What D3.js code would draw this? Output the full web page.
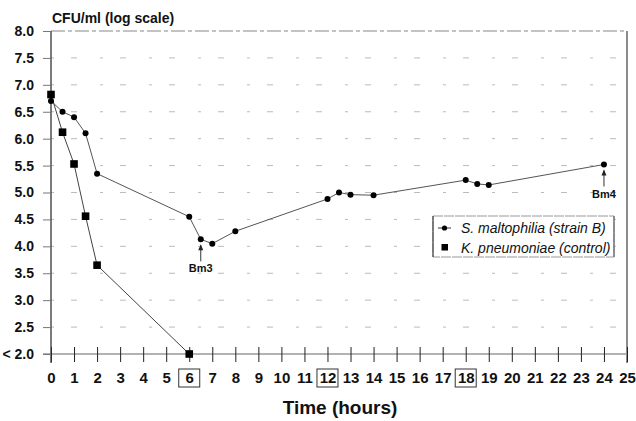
<!DOCTYPE html>
<html>
<head>
<meta charset="utf-8">
<script src="https://cdn.jsdelivr.net/npm/d3@7"></script>
<style>
  body { margin: 0; background: #fff; }
  text { font-family: Arial, "Liberation Sans", sans-serif; fill: #111; }
</style>
</head>
<body>
<div id="chart"></div>
<script>
// S. maltophilia (strain B)
const smHours = [0, 0.5, 1, 1.5, 2, 6, 6.5, 7, 8, 12, 12.5, 13, 14, 18, 18.5, 19, 24];
const smLog = [6.70, 6.50, 6.40, 6.10, 5.35, 4.55, 4.13, 4.05, 4.28, 4.88, 5.00, 4.96, 4.95, 5.23, 5.16, 5.14, 5.52];
// K. pneumoniae (control)
const kpHours = [0, 0.5, 1, 1.5, 2, 6];
const kpLog = [6.82, 6.12, 5.53, 4.56, 3.65, 2.0];

const xTicks = d3.range(0, 26);
const boxedHours = [6, 12, 18];
const yTicks = [2.0, 2.5, 3.0, 3.5, 4.0, 4.5, 5.0, 5.5, 6.0, 6.5, 7.0, 7.5, 8.0];
const yLabels = ["< 2.0", "2.5", "3.0", "3.5", "4.0", "4.5", "5.0", "5.5", "6.0", "6.5", "7.0", "7.5", "8.0"];
const marks = [{ label: "Bm3", t: 6.5, v: 4.13 }, { label: "Bm4", t: 24, v: 5.52 }];
const seriesNames = ["S. maltophilia (strain B)", "K. pneumoniae (control)"];

const width = 636, height = 421;
const svg = d3.select("#chart").append("svg")
    .attr("width", width)
    .attr("height", height);

const x = d3.scaleLinear().domain([0, 25]).range([51, 627]);
const y = d3.scaleLinear().domain([2, 8]).range([354, 31]);

// faint gridlines
svg.append("g").selectAll("line")
    .data(yTicks.filter(d => d > 2 && d < 8))
    .enter().append("line")
    .attr("x1", x(0)).attr("x2", x(25))
    .attr("y1", d => y(d)).attr("y2", d => y(d))
    .attr("stroke", "#bbb")
    .attr("stroke-width", 1)
    .attr("stroke-dasharray", "3,17,6,23");

// top border
svg.append("line")
    .attr("x1", x(0)).attr("x2", x(25))
    .attr("y1", y(8)).attr("y2", y(8))
    .attr("stroke", "#888").attr("stroke-width", 1.2)
    .attr("stroke-dasharray", "14,3,4,3");

// right border
svg.append("line")
    .attr("x1", x(25)).attr("x2", x(25))
    .attr("y1", y(8)).attr("y2", y(2) + 9)
    .attr("stroke", "#666").attr("stroke-width", 1.5);

// x axis
svg.append("line")
    .attr("x1", x(0) - 8).attr("x2", x(25))
    .attr("y1", y(2)).attr("y2", y(2))
    .attr("stroke", "#999").attr("stroke-width", 1.5);

const xAxis = d3.axisBottom(x)
    .tickValues(xTicks)
    .tickSize(7)
    .tickFormat(d3.format("d"));

const gx = svg.append("g")
    .attr("transform", "translate(0," + y(2) + ")")
    .call(xAxis);
gx.select(".domain").remove();
gx.selectAll(".tick line")
    .attr("y1", -7)
    .attr("y2", 8)
    .attr("stroke", "#222");
gx.selectAll(".tick text")
    .attr("y", 0)
    .attr("dy", null)
    .attr("transform", "translate(0,29)")
    .style("font-size", "15px")
    .style("font-weight", "bold")
    .style("font-family", "Arial, 'Liberation Sans', sans-serif")
    .attr("fill", "#111");

// boxes round 6, 12, 18
svg.append("g").selectAll("rect")
    .data(boxedHours)
    .enter().append("rect")
    .attr("x", d => x(d) - 10.5)
    .attr("y", 369)
    .attr("width", 21)
    .attr("height", 18)
    .attr("fill", "none")
    .attr("stroke", "#333")
    .attr("stroke-width", 1);

// y axis
svg.append("line")
    .attr("x1", x(0)).attr("x2", x(0))
    .attr("y1", y(8)).attr("y2", y(2) + 9)
    .attr("stroke", "#333").attr("stroke-width", 1.3);

const yAxis = d3.axisLeft(y)
    .tickValues(yTicks)
    .tickSize(8)
    .tickFormat((d, i) => yLabels[i]);

const gy = svg.append("g")
    .attr("transform", "translate(" + x(0) + ",0)")
    .call(yAxis);
gy.select(".domain").remove();
gy.selectAll(".tick line").attr("stroke", "#777");
gy.selectAll(".tick text")
    .attr("x", -17)
    .style("font-size", "14px")
    .style("font-weight", "bold")
    .style("font-family", "Arial, 'Liberation Sans', sans-serif")
    .attr("fill", "#111");

// titles
svg.append("text")
    .attr("x", 52).attr("y", 23)
    .style("font-size", "14px")
    .style("font-weight", "bold")
    .text("CFU/ml (log scale)");

svg.append("text")
    .attr("x", 340).attr("y", 414)
    .attr("text-anchor", "middle")
    .style("font-size", "19px")
    .style("font-weight", "bold")
    .text("Time (hours)");

// series
const line = d3.line()
    .x(d => x(d[0]))
    .y(d => y(d[1]));

const smData = smHours.map((t, i) => [t, smLog[i]]);
const kpData = kpHours.map((t, i) => [t, kpLog[i]]);

svg.append("path")
    .attr("d", line(smData))
    .attr("fill", "none")
    .attr("stroke", "#555")
    .attr("stroke-width", 1);

svg.append("path")
    .attr("d", line(kpData))
    .attr("fill", "none")
    .attr("stroke", "#444")
    .attr("stroke-width", 1);

svg.append("g").selectAll("circle")
    .data(smData)
    .enter().append("circle")
    .attr("cx", d => x(d[0]))
    .attr("cy", d => y(d[1]))
    .attr("r", 3)
    .attr("fill", "#000");

svg.append("g").selectAll("rect")
    .data(kpData)
    .enter().append("rect")
    .attr("x", d => x(d[0]) - 3.8)
    .attr("y", d => y(d[1]) - 3.8)
    .attr("width", 7.6)
    .attr("height", 7.6)
    .attr("fill", "#000");

// Bm annotations
const ann = svg.append("g").selectAll("g")
    .data(marks)
    .enter().append("g");

ann.append("line")
    .attr("x1", d => x(d.t)).attr("x2", d => x(d.t))
    .attr("y1", d => y(d.v) + 6).attr("y2", d => y(d.v) + 22)
    .attr("stroke", "#333").attr("stroke-width", 1);

ann.append("path")
    .attr("d", d => "M" + (x(d.t) - 2.5) + "," + (y(d.v) + 11) +
        "L" + x(d.t) + "," + (y(d.v) + 5) +
        "L" + (x(d.t) + 2.5) + "," + (y(d.v) + 11) + "Z")
    .attr("fill", "#222");

ann.append("text")
    .attr("x", d => x(d.t))
    .attr("y", d => y(d.v) + 33)
    .attr("text-anchor", "middle")
    .style("font-size", "11px")
    .style("font-weight", "bold")
    .text(d => d.label);

// legend
const legend = svg.append("g");
legend.append("rect")
    .attr("x", 433).attr("y", 216)
    .attr("width", 181).attr("height", 41)
    .attr("fill", "#fff")
    .attr("stroke", "#999")
    .attr("stroke-width", 1)
    .attr("stroke-dasharray", "10,1");
legend.append("line")
    .attr("x1", 433).attr("x2", 433).attr("y1", 216).attr("y2", 257)
    .attr("stroke", "#444").attr("stroke-width", 1.2);
legend.append("line")
    .attr("x1", 614).attr("x2", 614).attr("y1", 216).attr("y2", 257)
    .attr("stroke", "#777").attr("stroke-width", 1.5);

legend.append("line")
    .attr("x1", 438).attr("x2", 451).attr("y1", 228).attr("y2", 228)
    .attr("stroke", "#333");
legend.append("circle")
    .attr("cx", 444.5).attr("cy", 228).attr("r", 2.6).attr("fill", "#000");
legend.append("rect")
    .attr("x", 441.5).attr("y", 244).attr("width", 6.5).attr("height", 6.5)
    .attr("fill", "#000");

legend.selectAll("text")
    .data(seriesNames)
    .enter().append("text")
    .attr("x", 461)
    .attr("y", (d, i) => 233 + i * 19.5)
    .style("font-size", "14px")
    .style("font-style", "italic")
    .text(d => d);
</script>
</body>
</html>
